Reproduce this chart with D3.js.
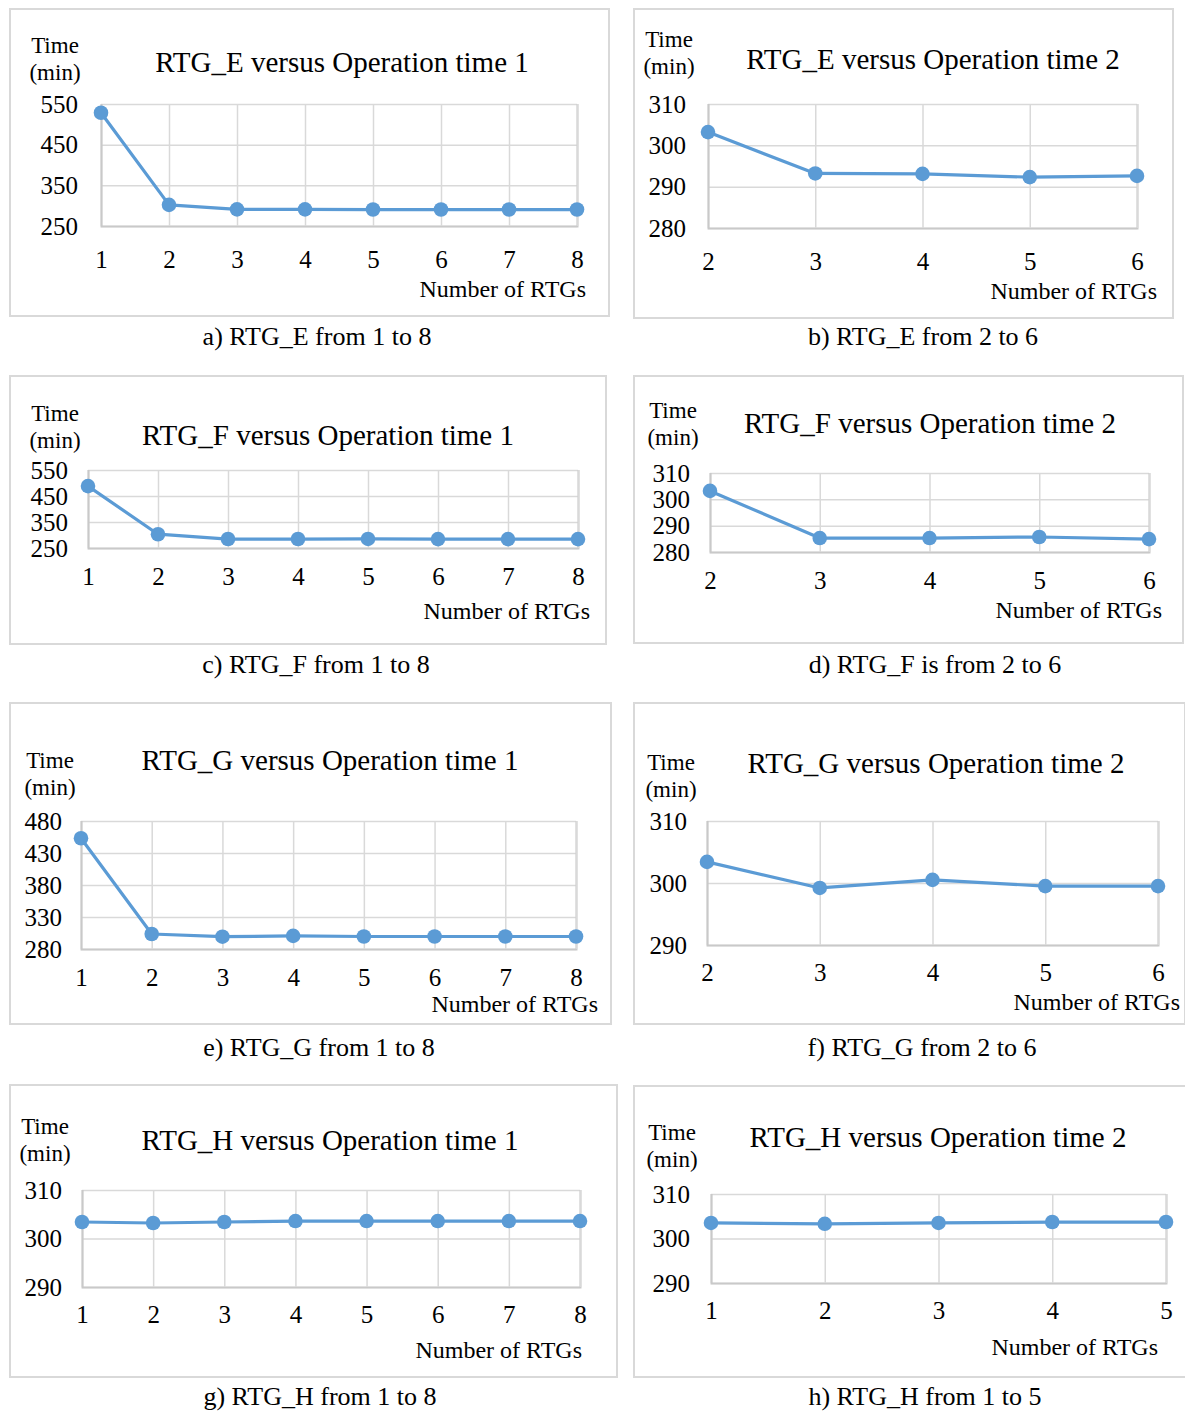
<!DOCTYPE html>
<html>
<head>
<meta charset="utf-8">
<script src="https://cdn.jsdelivr.net/npm/d3@7"></script>
<style>
  body { margin: 0; background: #fff; }
  svg text { font-family: 'Liberation Serif', 'Times New Roman', serif; fill: #000; }
</style>
</head>
<body>
<svg id="chart" width="1185" height="1412"></svg>
<script>
// categories (number of RTGs)
const rtgs1to8 = [1, 2, 3, 4, 5, 6, 7, 8];
const rtgs2to6 = [2, 3, 4, 5, 6];
const rtgs1to5 = [1, 2, 3, 4, 5];

// operation time (min)
const timeE1 = [528.5, 302, 291, 291, 290.5, 290.5, 290.5, 290.5];
const timeE2 = [303.2, 293.2, 293.1, 292.3, 292.6];
const timeF1 = [488, 303, 284.5, 284.5, 284.8, 284.3, 284.3, 284.3];
const timeF2 = [303.2, 285.3, 285.3, 285.7, 284.9];
const timeG1 = [453, 303.4, 299.2, 300.5, 299.5, 299.5, 299.5, 299.5];
const timeG2 = [303.4, 299.2, 300.5, 299.5, 299.5];
const timeH1 = [303.4, 303.2, 303.4, 303.6, 303.6, 303.6, 303.6, 303.6];
const timeH2 = [303.5, 303.3, 303.5, 303.7, 303.7];

// y tick labels
const ticks250 = [250, 350, 450, 550];
const ticks280 = [280, 290, 300, 310];
const ticks280b = [280, 330, 380, 430, 480];
const ticks290 = [290, 300, 310];

const titles = [
  'RTG_E versus Operation time 1', 'RTG_E versus Operation time 2',
  'RTG_F versus Operation time 1', 'RTG_F versus Operation time 2',
  'RTG_G versus Operation time 1', 'RTG_G versus Operation time 2',
  'RTG_H versus Operation time 1', 'RTG_H versus Operation time 2'
];
const captions = [
  'a) RTG_E from 1 to 8', 'b) RTG_E from 2 to 6',
  'c) RTG_F from 1 to 8', 'd) RTG_F is from 2 to 6',
  'e) RTG_G from 1 to 8', 'f) RTG_G from 2 to 6',
  'g) RTG_H from 1 to 8', 'h) RTG_H from 1 to 5'
];

// layout of each panel: box [x, y, w, h], plot [left, right, top, bottom]
const panels = [
  {xs: rtgs1to8, ys: timeE1, ticks: ticks250, box: [10, 9, 599, 307], plot: [101, 577, 104, 226],
   time: [55, 53], head: [342, 72], yPad: 23, xPad: 24, axisT: [586, 297], cap: [317, 345]},
  {xs: rtgs2to6, ys: timeE2, ticks: ticks280, box: [634, 9, 539, 309], plot: [708, 1137, 104, 228],
   time: [669, 47], head: [933, 69], yPad: 22, xPad: 24, axisT: [1157, 299], cap: [923, 345]},
  {xs: rtgs1to8, ys: timeF1, ticks: ticks250, box: [10, 376, 596, 268], plot: [88, 578, 470, 548],
   time: [55, 421], head: [328, 445], yPad: 20, xPad: 19, axisT: [590, 619], cap: [316, 673]},
  {xs: rtgs2to6, ys: timeF2, ticks: ticks280, box: [634, 376, 549, 267], plot: [710, 1149, 473, 552],
   time: [673, 418], head: [930, 433], yPad: 20, xPad: 19, axisT: [1162, 618], cap: [935, 673]},
  {xs: rtgs1to8, ys: timeG1, ticks: ticks280b, box: [10, 703, 601, 321], plot: [81, 576, 821, 949],
   time: [50, 768], head: [330, 770], yPad: 19, xPad: 19, axisT: [598, 1012], cap: [319, 1056]},
  {xs: rtgs2to6, ys: timeG2, ticks: ticks290, box: [634, 703, 551, 321], plot: [707, 1158, 821, 945],
   time: [671, 770], head: [936, 773], yPad: 20, xPad: 18, axisT: [1180, 1010], cap: [922, 1056]},
  {xs: rtgs1to8, ys: timeH1, ticks: ticks290, box: [10, 1085, 607, 292], plot: [82, 580, 1190, 1287],
   time: [45, 1134], head: [330, 1150], yPad: 20, xPad: 18, axisT: [582, 1358], cap: [320, 1405]},
  {xs: rtgs1to5, ys: timeH2, ticks: ticks290, box: [634, 1086, 553, 291], plot: [711, 1166, 1194, 1283],
   time: [672, 1140], head: [938, 1147], yPad: 21, xPad: 18, axisT: [1158, 1355], cap: [925, 1405]}
];

const blue = '#5b9bd5',
      grid = '#d9d9d9';

const svg = d3.select('#chart');

panels.forEach((p, i) => {
  const g = svg.append('g');
  const [left, right, top, bottom] = p.plot;

  g.append('rect')
    .attr('x', p.box[0]).attr('y', p.box[1])
    .attr('width', p.box[2]).attr('height', p.box[3])
    .attr('fill', 'none').attr('stroke', grid).attr('stroke-width', 2);

  const x = d3.scalePoint().domain(p.xs).range([left, right]);
  const y = d3.scaleLinear().domain(d3.extent(p.ticks)).range([bottom, top]);

  // horizontal grid + y labels
  const ya = g.append('g')
    .attr('transform', `translate(${left},0)`)
    .call(d3.axisLeft(y).tickValues(p.ticks).tickSize(-(right - left)).tickPadding(p.yPad));
  ya.select('.domain').remove();
  ya.selectAll('line').attr('stroke', grid).attr('stroke-width', 1.5);
  ya.selectAll('text').style('font-size', '25px');

  // vertical grid + x labels
  const xa = g.append('g')
    .attr('transform', `translate(0,${bottom})`)
    .call(d3.axisBottom(x).tickSize(-(bottom - top)).tickPadding(p.xPad));
  xa.select('.domain').attr('stroke', '#c9c9c9').attr('stroke-width', 2);
  xa.selectAll('line').attr('stroke', grid).attr('stroke-width', 1.5);
  xa.selectAll('.tick:first-of-type line').attr('stroke', '#c9c9c9');
  xa.selectAll('text').style('font-size', '25px');

  const pts = p.xs.map((d, j) => [d, p.ys[j]]);

  g.append('path')
    .datum(pts)
    .attr('fill', 'none')
    .attr('stroke', blue)
    .attr('stroke-width', 3.2)
    .attr('stroke-linejoin', 'round')
    .attr('d', d3.line().x(d => x(d[0])).y(d => y(d[1])));

  g.selectAll('circle.pt')
    .data(pts)
    .enter()
    .append('circle')
      .attr('class', 'pt')
      .attr('cx', d => x(d[0]))
      .attr('cy', d => y(d[1]))
      .attr('r', 7.3)
      .attr('fill', blue);

  const yt = g.append('text')
    .attr('text-anchor', 'middle')
    .style('font-size', '23px');
  yt.append('tspan').attr('x', p.time[0]).attr('y', p.time[1]).text('Time');
  yt.append('tspan').attr('x', p.time[0]).attr('y', p.time[1] + 27).text('(min)');

  g.append('text')
    .attr('x', p.head[0]).attr('y', p.head[1])
    .attr('text-anchor', 'middle')
    .style('font-size', '29px')
    .text(titles[i]);

  g.append('text')
    .attr('x', p.axisT[0]).attr('y', p.axisT[1])
    .attr('text-anchor', 'end')
    .style('font-size', '24px')
    .text('Number of RTGs');

  g.append('text')
    .attr('x', p.cap[0]).attr('y', p.cap[1])
    .attr('text-anchor', 'middle')
    .style('font-size', '26px')
    .text(captions[i]);
});
</script>
</body>
</html>
